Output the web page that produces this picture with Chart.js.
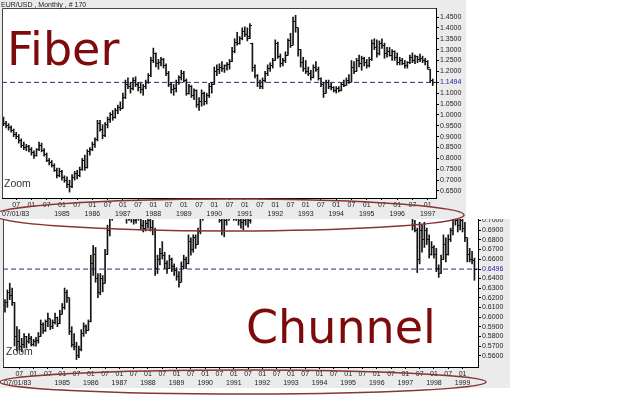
<!DOCTYPE html>
<html>
<head>
<meta charset="utf-8">
<script src="https://cdn.jsdelivr.net/npm/chart.js@4.4.1/dist/chart.umd.min.js"></script>
<style>
  html, body { margin: 0; padding: 0; background: #fff; }
  body { position: relative; width: 625px; height: 397px; overflow: hidden; }
  .panel { position: absolute; left: 0; background: #ebebeb; }
  #fiberPanel { top: 0; width: 466px; height: 219px; z-index: 2; }
  #chunnelPanel { top: 219px; width: 510px; height: 169px; z-index: 1; }
  #fiberChart { position: absolute; left: 0; top: 8px; }
  #chunnelChart { position: absolute; left: 0; top: 0; }
  #notes { position: absolute; left: 0; top: 0; z-index: 3; }
</style>
</head>
<body>
<div class="panel" id="fiberPanel"><canvas id="fiberChart" width="466" height="211"></canvas></div>
<div class="panel" id="chunnelPanel"><canvas id="chunnelChart" width="510" height="169"></canvas></div>
<svg id="notes" width="625" height="397" font-family="Liberation Sans, Arial, sans-serif">
  <text x="1" y="7" font-size="7" fill="#222">EUR/USD , Monthly , # 170</text>
  <text x="7" y="65" font-family="DejaVu Sans" font-size="46" fill="#7d0b0b">Fiber</text>
  <text x="246" y="343" font-family="DejaVu Sans" font-size="46" fill="#7d0b0b">Chunnel</text>
  <text x="4" y="187" font-size="10.5" fill="#333">Zoom</text>
  <text x="6" y="355" font-size="10.5" fill="#333">Zoom</text>
  <text x="2" y="216" font-size="7" fill="#222">07/01/83</text>
  <text x="4" y="385" font-size="7" fill="#222">07/01/83</text>
  <ellipse cx="229" cy="215" rx="235" ry="16" fill="none" stroke="#8a3434" stroke-width="1.5"/>
  <ellipse cx="243" cy="382" rx="243" ry="12" fill="none" stroke="#8a3434" stroke-width="1.5"/>
</svg>
<script>
// EUR/USD monthly bars, Feb 1983 .. Mar 1997
var fiberOpen = [
  .97,.96,.95,.94,.93,.91,.90,.88,.86,.85,
  .855,.84,.825,.815,.84,.86,.835,.82,.79,.78,
  .765,.745,.72,.74,.71,.70,.68,.67,.71,.73,
  .72,.75,.79,.76,.83,.84,.865,.885,.96,.935,
  .905,.955,.98,1.0,.99,1.02,1.035,1.03,1.08,1.14,
  1.13,1.12,1.16,1.14,1.125,1.115,1.13,1.15,1.18,1.25,
  1.28,1.235,1.24,1.255,1.225,1.19,1.14,1.115,1.12,1.15,
  1.17,1.19,1.16,1.10,1.13,1.09,1.11,1.05,1.06,1.10,
  1.06,1.09,1.13,1.14,1.20,1.21,1.22,1.215,1.225,1.23,
  1.245,1.29,1.335,1.33,1.35,1.385,1.37,1.36,1.33,1.22,
  1.18,1.15,1.13,1.16,1.19,1.215,1.225,1.25,1.33,1.27,
  1.235,1.25,1.275,1.34,1.32,1.43,1.40,1.30,1.24,1.215,
  1.20,1.19,1.17,1.22,1.21,1.165,1.14,1.10,1.15,1.13,
  1.125,1.11,1.12,1.11,1.14,1.135,1.16,1.15,1.22,1.20,
  1.25,1.235,1.26,1.24,1.225,1.255,1.33,1.31,1.28,1.33,
  1.32,1.28,1.29,1.275,1.29,1.265,1.24,1.25,1.235,1.225,
  1.24,1.265,1.25,1.27,1.255,1.26,1.25,1.245,1.21,1.16
];
var fiberHigh = [
  .99,.97,.96,.95,.935,.92,.91,.89,.875,.865,
  .86,.85,.835,.845,.875,.87,.845,.825,.80,.79,
  .775,.755,.755,.745,.72,.715,.70,.725,.74,.745,
  .76,.80,.815,.84,.85,.875,.895,.975,.975,.955,
  .965,.99,1.01,1.02,1.03,1.045,1.06,1.10,1.16,1.17,
  1.15,1.17,1.175,1.15,1.145,1.14,1.16,1.19,1.265,1.307,
  1.285,1.255,1.265,1.26,1.235,1.20,1.15,1.14,1.16,1.18,
  1.205,1.20,1.165,1.14,1.135,1.12,1.115,1.08,1.115,1.105,
  1.10,1.145,1.15,1.22,1.23,1.235,1.245,1.23,1.24,1.255,
  1.31,1.35,1.38,1.36,1.40,1.405,1.40,1.42,1.33,1.23,
  1.185,1.16,1.17,1.20,1.23,1.24,1.26,1.345,1.335,1.28,
  1.26,1.29,1.35,1.375,1.45,1.458,1.40,1.30,1.265,1.25,
  1.22,1.205,1.23,1.245,1.22,1.17,1.15,1.16,1.16,1.145,
  1.13,1.13,1.13,1.145,1.16,1.17,1.185,1.25,1.245,1.26,
  1.275,1.27,1.265,1.255,1.265,1.345,1.35,1.345,1.34,1.35,
  1.33,1.31,1.31,1.30,1.295,1.285,1.265,1.26,1.25,1.245,
  1.275,1.285,1.275,1.27,1.28,1.27,1.26,1.25,1.21,1.165
];
var fiberLow = [
  .95,.94,.93,.92,.90,.89,.87,.85,.84,.835,
  .83,.815,.80,.81,.835,.83,.81,.785,.77,.76,
  .74,.71,.715,.70,.69,.665,.645,.665,.70,.705,
  .715,.745,.745,.755,.815,.835,.85,.88,.925,.89,
  .90,.94,.965,.975,.985,1.005,1.02,1.03,1.075,1.12,
  1.10,1.115,1.13,1.11,1.10,1.09,1.12,1.145,1.175,1.24,
  1.22,1.21,1.225,1.215,1.18,1.13,1.10,1.09,1.105,1.14,
  1.16,1.15,1.09,1.095,1.08,1.07,1.035,1.02,1.04,1.045,
  1.05,1.08,1.10,1.14,1.18,1.19,1.20,1.195,1.205,1.21,
  1.245,1.285,1.32,1.325,1.345,1.36,1.34,1.35,1.20,1.17,
  1.13,1.12,1.12,1.15,1.18,1.20,1.215,1.25,1.26,1.22,
  1.225,1.24,1.275,1.31,1.32,1.38,1.27,1.22,1.20,1.19,
  1.18,1.16,1.17,1.20,1.16,1.13,1.08,1.10,1.12,1.115,
  1.105,1.10,1.105,1.11,1.13,1.135,1.145,1.15,1.19,1.20,
  1.22,1.205,1.225,1.215,1.22,1.25,1.30,1.265,1.275,1.305,
  1.26,1.265,1.27,1.25,1.25,1.23,1.23,1.23,1.215,1.215,
  1.235,1.24,1.235,1.24,1.245,1.24,1.23,1.21,1.15,1.135
];
var fiberClose = [
  .96,.95,.94,.93,.91,.90,.88,.86,.85,.855,
  .84,.825,.815,.84,.86,.835,.82,.79,.78,.765,
  .745,.72,.74,.71,.70,.68,.67,.71,.73,.72,
  .75,.79,.76,.83,.84,.865,.885,.96,.935,.905,
  .955,.98,1.0,.99,1.02,1.035,1.03,1.08,1.14,1.13,
  1.12,1.16,1.14,1.125,1.115,1.13,1.15,1.18,1.25,1.28,
  1.235,1.24,1.255,1.225,1.19,1.14,1.115,1.12,1.15,1.17,
  1.19,1.16,1.10,1.13,1.09,1.11,1.05,1.06,1.10,1.06,
  1.09,1.13,1.14,1.20,1.21,1.22,1.215,1.225,1.23,1.245,
  1.29,1.335,1.33,1.35,1.385,1.37,1.35,1.41,1.22,1.18,
  1.15,1.13,1.16,1.19,1.215,1.225,1.25,1.33,1.27,1.235,
  1.25,1.275,1.34,1.32,1.43,1.40,1.30,1.24,1.215,1.20,
  1.19,1.17,1.22,1.21,1.165,1.14,1.10,1.15,1.13,1.125,
  1.11,1.12,1.11,1.14,1.135,1.16,1.15,1.22,1.20,1.25,
  1.235,1.26,1.24,1.225,1.255,1.33,1.31,1.28,1.33,1.32,
  1.28,1.29,1.275,1.29,1.265,1.24,1.25,1.235,1.225,1.24,
  1.265,1.25,1.27,1.255,1.26,1.25,1.245,1.22,1.16,1.1494
];

// EUR/GBP monthly bars, Jan 1983 .. Jun 1999 (1991-1996 sits above the visible range)
var chunnelOpen = [
  .612,.615,.625,.622,.615,.58,.575,.57,.572,.58,
  .575,.578,.572,.575,.576,.58,.592,.586,.595,.598,
  .59,.594,.60,.593,.603,.61,.625,.62,.585,.572,
  .57,.56,.566,.583,.59,.586,.595,.655,.665,.64,
  .625,.64,.635,.665,.69,.705,.72,.735,.74,.745,
  .725,.71,.705,.71,.702,.70,.705,.71,.695,.692,
  .697,.70,.693,.69,.65,.66,.666,.664,.655,.65,
  .66,.652,.648,.642,.636,.652,.66,.655,.678,.67,
  .682,.675,.688,.705,.715,.72,.725,.72,.715,.71,
  .708,.70,.69,.70,.71,.715,.71,.705,.71,.70,
  .698,.70,.705,.70,.71,.72,.725,.72,.715,.72,
  .725,.72,.725,.73,.725,.73,.75,.78,.79,.78,
  .78,.79,.80,.79,.78,.77,.76,.77,.76,.75,
  .76,.76,.77,.77,.775,.78,.79,.79,.78,.78,
  .79,.79,.78,.79,.80,.81,.83,.85,.86,.85,
  .85,.84,.85,.84,.84,.85,.84,.84,.83,.83,
  .82,.82,.815,.82,.81,.80,.79,.78,.76,.73,
  .72,.71,.695,.69,.66,.69,.68,.69,.68,.665,
  .672,.665,.65,.645,.66,.675,.665,.68,.69,.705,
  .70,.695,.70,.692,.682,.665,.66,.658
];
var chunnelHigh = [
  .618,.628,.635,.63,.615,.59,.587,.578,.583,.58,
  .583,.58,.577,.579,.584,.597,.594,.597,.604,.598,
  .597,.604,.60,.607,.614,.63,.628,.62,.59,.583,
  .574,.57,.587,.594,.592,.597,.664,.674,.672,.645,
  .645,.643,.67,.695,.715,.73,.74,.75,.76,.75,
  .735,.72,.715,.72,.71,.712,.715,.712,.70,.70,
  .705,.705,.70,.692,.664,.671,.678,.667,.658,.664,
  .661,.655,.651,.647,.657,.664,.662,.685,.682,.685,
  .685,.692,.71,.72,.73,.735,.74,.73,.725,.72,
  .715,.71,.705,.715,.72,.725,.72,.715,.715,.71,
  .705,.71,.71,.715,.725,.73,.735,.73,.725,.73,
  .735,.73,.74,.74,.735,.76,.79,.80,.80,.79,
  .795,.81,.81,.80,.79,.775,.78,.775,.765,.77,
  .77,.775,.78,.785,.79,.795,.80,.795,.79,.795,
  .80,.795,.795,.81,.825,.84,.855,.87,.865,.86,
  .855,.86,.855,.85,.86,.855,.85,.845,.84,.835,
  .83,.825,.83,.825,.815,.805,.795,.785,.765,.74,
  .73,.72,.70,.692,.698,.695,.698,.692,.685,.678,
  .674,.671,.654,.664,.685,.682,.685,.692,.71,.715,
  .705,.705,.705,.698,.682,.671,.668,.661
];
var chunnelLow = [
  .605,.61,.618,.612,.57,.565,.566,.564,.568,.568,
  .573,.57,.57,.57,.573,.58,.583,.585,.59,.587,
  .588,.593,.59,.593,.603,.608,.615,.582,.569,.566,
  .556,.558,.565,.58,.583,.586,.595,.643,.636,.62,
  .623,.626,.635,.665,.684,.70,.715,.725,.73,.72,
  .705,.697,.70,.698,.696,.697,.70,.69,.688,.689,
  .692,.689,.685,.643,.645,.654,.66,.65,.645,.65,
  .647,.643,.638,.631,.636,.65,.65,.655,.664,.667,
  .671,.675,.686,.70,.71,.712,.715,.71,.705,.702,
  .698,.685,.683,.695,.70,.705,.70,.70,.695,.692,
  .69,.695,.693,.697,.705,.71,.715,.708,.706,.71,
  .715,.71,.715,.72,.715,.72,.745,.76,.77,.77,
  .77,.78,.785,.775,.765,.75,.755,.75,.74,.745,
  .75,.755,.76,.76,.77,.775,.78,.775,.77,.775,
  .78,.775,.775,.785,.795,.805,.825,.845,.84,.84,
  .835,.835,.83,.83,.835,.83,.83,.825,.82,.815,
  .81,.81,.81,.805,.79,.78,.77,.75,.725,.712,
  .705,.69,.688,.646,.655,.667,.672,.675,.661,.664,
  .661,.647,.641,.645,.66,.657,.664,.678,.685,.695,
  .688,.69,.688,.678,.657,.657,.655,.638
];
var chunnelClose = [
  .615,.625,.622,.615,.58,.575,.57,.572,.58,.575,
  .578,.572,.575,.576,.58,.592,.586,.595,.598,.59,
  .594,.60,.593,.603,.61,.625,.62,.585,.572,.57,
  .56,.566,.583,.59,.586,.595,.655,.665,.64,.625,
  .64,.635,.665,.69,.705,.72,.735,.74,.745,.725,
  .71,.705,.71,.702,.70,.705,.71,.695,.692,.697,
  .70,.693,.69,.65,.66,.666,.664,.655,.65,.66,
  .652,.648,.642,.636,.652,.66,.655,.678,.67,.682,
  .675,.688,.705,.715,.72,.725,.72,.715,.71,.708,
  .70,.69,.70,.71,.715,.71,.705,.71,.70,.698,
  .70,.705,.70,.71,.72,.725,.72,.715,.72,.725,
  .72,.725,.73,.725,.73,.75,.78,.79,.78,.78,
  .79,.80,.79,.78,.77,.76,.77,.76,.75,.76,
  .76,.77,.77,.775,.78,.79,.79,.78,.78,.79,
  .79,.78,.79,.80,.81,.83,.85,.86,.85,.85,
  .84,.85,.84,.84,.85,.84,.84,.83,.83,.82,
  .82,.815,.82,.81,.80,.79,.78,.76,.73,.72,
  .71,.695,.69,.66,.69,.68,.69,.68,.665,.672,
  .665,.65,.645,.66,.675,.665,.68,.69,.705,.70,
  .695,.70,.692,.682,.665,.66,.658,.6496
];

var fiberStart = { year: 1983, month: 2 };
var chunnelStart = { year: 1983, month: 1 };
var firstYearShown = 1985;
var firstDateTick = { year: 1983, month: 7 };
var monthLabels = { 1: "01", 7: "07" };

var fiberPriceTicks = [0.65, 0.70, 0.75, 0.80, 0.85, 0.90, 0.95, 1.00, 1.05, 1.10, 1.1494, 1.20, 1.25, 1.30, 1.35, 1.40, 1.45];
var chunnelPriceTicks = [0.56, 0.57, 0.58, 0.59, 0.60, 0.61, 0.62, 0.63, 0.64, 0.6496, 0.66, 0.67, 0.68, 0.69, 0.70];

var FONT = "'Liberation Sans', Arial, sans-serif";

function tickImage(side) {
  var c = document.createElement("canvas");
  c.width = 5; c.height = 1;
  var g = c.getContext("2d");
  g.fillStyle = "#111";
  g.fillRect(side === "left" ? 0 : 3, 0, 2, 1);
  return c;
}
var openTick = tickImage("left");
var closeTick = tickImage("right");

function monthOf(start, i) {
  var n = start.month - 1 + i;
  return { year: start.year + Math.floor(n / 12), month: (n % 12) + 1 };
}

// ticks at every January and July from July 1983 on
function halfYearTicks(start, count) {
  var ticks = [];
  for (var i = 0; i < count; i++) {
    var d = monthOf(start, i);
    var early = d.year < firstDateTick.year || (d.year === firstDateTick.year && d.month < firstDateTick.month);
    if (!early && (d.month === 1 || d.month === 7)) ticks.push({ value: i });
  }
  return ticks;
}

function plotFrame(drawTop) {
  return {
    id: "plotFrame",
    beforeDraw: function (chart) {
      var a = chart.chartArea, c = chart.ctx;
      c.save();
      c.fillStyle = "#fff";
      c.fillRect(a.left, a.top, a.right - a.left, a.bottom - a.top);
      c.restore();
    },
    afterDraw: function (chart) {
      var a = chart.chartArea, c = chart.ctx;
      c.save();
      c.strokeStyle = "#444";
      c.lineWidth = 1;
      c.beginPath();
      c.moveTo(a.left + 0.5, a.bottom);
      c.lineTo(a.left + 0.5, a.top + 0.5);
      if (drawTop) c.lineTo(a.right, a.top + 0.5);
      c.stroke();
      c.restore();
    }
  };
}

function ohlcChart(id, s) {
  var bars = [], opens = [], closes = [];
  for (var i = 0; i < s.high.length; i++) {
    bars.push({ x: i, y: [s.low[i], s.high[i]] });
    opens.push({ x: i, y: s.open[i] });
    closes.push({ x: i, y: s.close[i] });
  }
  var last = s.close[s.close.length - 1];
  var clipBox = { left: 0, top: 0, right: 0, bottom: 0 };

  return new Chart(document.getElementById(id), {
    type: "bar",
    data: {
      datasets: [
        { type: "line", data: [{ x: s.xMin, y: last }, { x: s.xMax, y: last }],
          borderColor: "#2e2e72", borderWidth: 1, borderDash: [5, 3], pointRadius: 0, clip: clipBox, order: 3 },
        { data: bars, backgroundColor: "#151515", borderWidth: 0, barThickness: 1, clip: clipBox, order: 2 },
        { type: "scatter", data: opens, pointStyle: openTick, pointRadius: 1, clip: clipBox, order: 1 },
        { type: "scatter", data: closes, pointStyle: closeTick, pointRadius: 1, clip: clipBox, order: 1 }
      ]
    },
    options: {
      responsive: false,
      animation: false,
      devicePixelRatio: 1,
      events: [],
      layout: { autoPadding: false, padding: { left: s.padLeft, top: 0, right: 0, bottom: 0 } },
      plugins: { legend: { display: false }, tooltip: { enabled: false } },
      scales: {
        x: {
          type: "linear", min: s.xMin, max: s.xMax, offset: false,
          grid: { offset: false, drawOnChartArea: false, tickLength: 2, color: "#000" },
          border: { color: "#000" },
          ticks: {
            autoSkip: false, maxRotation: 0, minRotation: 0, padding: 0, color: "#222",
            font: { family: FONT, size: 7, lineHeight: 1.35 },
            callback: function (v) {
              var d = monthOf(s.start, v);
              return [monthLabels[d.month], d.month === 1 && d.year >= firstYearShown ? String(d.year) : ""];
            }
          },
          afterBuildTicks: function (scale) { scale.ticks = halfYearTicks(s.start, s.high.length); },
          afterFit: function (scale) { scale.height = s.xAxisHeight; scale.paddingLeft = 0; scale.paddingRight = 0; }
        },
        y: {
          type: "linear", position: "right", min: s.yMin, max: s.yMax,
          grid: { drawOnChartArea: false, tickLength: 3, color: "#000" },
          border: { color: "#000" },
          ticks: {
            autoSkip: false, padding: 1,
            font: { family: FONT, size: 7 },
            color: function (ctx) { return ctx.tick && ctx.tick.value === last ? "#2323a8" : "#222"; },
            callback: function (v) { return v.toFixed(4); }
          },
          afterBuildTicks: function (scale) { scale.ticks = s.priceTicks.map(function (v) { return { value: v }; }); },
          afterFit: function (scale) { scale.width = s.yAxisWidth; scale.paddingTop = 0; scale.paddingBottom = 0; }
        }
      }
    },
    plugins: [plotFrame(s.drawTop)]
  });
}

ohlcChart("fiberChart", {
  open: fiberOpen, high: fiberHigh, low: fiberLow, close: fiberClose,
  start: fiberStart, priceTicks: fiberPriceTicks,
  xMin: -0.59, xMax: 170.28, yMin: 0.6178, yMax: 1.4914,
  padLeft: 2, yAxisWidth: 30, xAxisHeight: 21, drawTop: true
});

ohlcChart("chunnelChart", {
  open: chunnelOpen, high: chunnelHigh, low: chunnelLow, close: chunnelClose,
  start: chunnelStart, priceTicks: chunnelPriceTicks,
  xMin: -0.84, xMax: 198.49, yMin: 0.54833, yMax: 0.70138,
  padLeft: 3, yAxisWidth: 32, xAxisHeight: 21, drawTop: false
});
</script>
</body>
</html>
